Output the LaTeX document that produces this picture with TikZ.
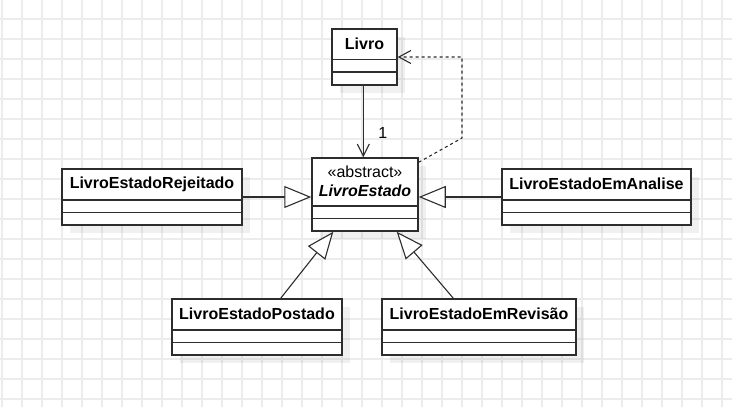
\documentclass[tikz,border=0pt]{standalone}
\usepackage{fontspec}
\setmainfont{Liberation Sans}
\usetikzlibrary{arrows.meta,shadows,calc}
\definecolor{gridc}{RGB}{236,236,236}
\definecolor{linec}{RGB}{45,45,45}
\tikzset{
  umlbox/.style={draw=linec, line width=1.5pt, fill=white, inner sep=0pt,
    drop shadow={shadow xshift=8pt, shadow yshift=-8pt, fill=black, opacity=0.06}},
  divider/.style={draw=linec, line width=1.3pt},
  conn/.style={draw=linec, line width=1.1pt},
  assoc/.style={conn, -{Straight Barb[length=12pt,width=12pt,line width=1.1pt]}},
  depend/.style={conn, dash pattern=on 3pt off 3pt, -{Straight Barb[length=12pt,width=13pt,line width=1.1pt]}},
  inherit/.style={conn, -{Triangle[open,length=27pt,width=22pt,fill=white,line width=1.1pt]}},
  title/.style={font=\bfseries, inner sep=0pt},
}
\newcommand{\umlclass}[7]{%
  \node[umlbox, minimum width=#4pt, minimum height=#5pt] (#1) at (#2,#3) {};
  \draw[divider] ([yshift=-#6pt]#1.north west) -- ([yshift=-#6pt]#1.north east);
  \draw[divider] ([yshift=-#6pt-12.4pt]#1.north west) -- ([yshift=-#6pt-12.4pt]#1.north east);
  \node[title] (#1-t) at ([yshift=-#6pt/2]#1.north) {#7};
}
\begin{document}
\begin{tikzpicture}[x=1pt,y=-1pt]
\fontsize{16}{19}\selectfont
\useasboundingbox (0,0) rectangle (732,407);
\fill[white] (0,0) rectangle (732,407);
% grid
\foreach \gx in {2,22,...,722} \draw[gridc, line width=1.6pt] (\gx,0) -- (\gx,407);
\foreach \gy in {19,39,...,399} \draw[gridc, line width=1.6pt] (0,\gy) -- (732,\gy);
% classes
\umlclass{livro}{364.5}{57}{65}{56}{31.3}{Livro}
\umlclass{rej}{152}{197}{180}{56}{31.7}{LivroEstadoRejeitado}
\umlclass{analise}{596.5}{197}{189}{56}{31.7}{LivroEstadoEmAnalise}
\umlclass{postado}{257}{327}{170}{56}{31.6}{LivroEstadoPostado}
\umlclass{revisao}{479}{327}{194}{56}{31.6}{LivroEstadoEmRevisão}
% abstract class
\node[umlbox, minimum width=106pt, minimum height=73pt] (estado) at (365,194.5) {};
\draw[divider] ([yshift=-48.7pt]estado.north west) -- ([yshift=-48.7pt]estado.north east);
\draw[divider] ([yshift=-61.3pt]estado.north west) -- ([yshift=-61.3pt]estado.north east);
\node[inner sep=0pt, align=center] (estado-t) at ([yshift=-24.4pt]estado.north)
  {«abstract»\\\textbf{\textit{LivroEstado}}};
% association
\draw[assoc] ([xshift=-1.2pt]livro.south) -- ([xshift=-1.2pt]livro.south |- estado.north);
\node[inner sep=0pt] (mult) at (382.7,132.7) {1};
% dependency
\coordinate (d0) at ([yshift=-5pt]estado.north east);
\coordinate (d1) at (462,138);
\coordinate (d2) at (d1 |- livro.east);
\draw[depend] (d0) -- (d1) -- (d2) -- (livro.east);
% generalizations
\draw[inherit] (rej.east) -- (rej.east -| estado.west);
\draw[inherit] (analise.west) -- (analise.west -| estado.east);
\draw[inherit] ([xshift=23.7pt]postado.north) -- ([xshift=-31.7pt]estado.south);
\draw[inherit] ([xshift=-25.7pt]revisao.north) -- ([xshift=31.7pt]estado.south);
\end{tikzpicture}
\end{document}
